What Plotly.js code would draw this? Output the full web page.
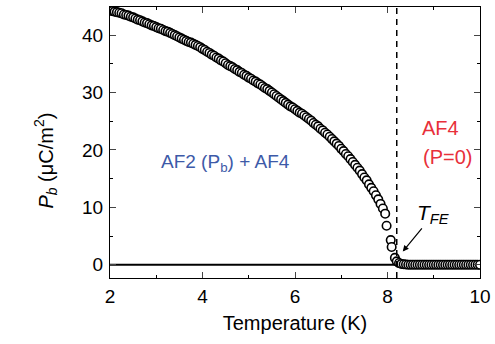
<!DOCTYPE html>
<html><head><meta charset="utf-8">
<script src="https://cdn.plot.ly/plotly-3.0.1.min.js"></script>
<style>html,body{margin:0;padding:0;background:#fff}#chart{width:495px;height:344px}</style>
</head><body><div id="chart"></div>
<script>
// Temperature (K) and polarization P_b (uC/m^2)
const temperature = [
 2.00,2.05,2.10,2.15,2.20,2.25,2.30,2.35,2.40,2.45,2.50,2.55,2.60,2.65,2.70,2.75,2.80,2.85,2.90,2.95,
 3.00,3.05,3.10,3.15,3.20,3.25,3.30,3.35,3.40,3.45,3.50,3.55,3.60,3.65,3.70,3.75,3.80,3.85,3.90,3.95,
 4.00,4.05,4.10,4.15,4.20,4.25,4.30,4.35,4.40,4.45,4.50,4.55,4.60,4.65,4.70,4.75,4.80,4.85,4.90,4.95,
 5.00,5.05,5.10,5.15,5.20,5.25,5.30,5.35,5.40,5.45,5.50,5.55,5.60,5.65,5.70,5.75,5.80,5.85,5.90,5.95,
 6.00,6.05,6.10,6.15,6.20,6.25,6.30,6.35,6.40,6.45,6.50,6.55,6.60,6.65,6.70,6.75,6.80,6.85,6.90,6.95,
 7.00,7.05,7.10,7.15,7.20,7.25,7.30,7.35,7.40,7.45,7.50,7.55,7.60,7.65,7.70,7.75,7.80,7.85,7.90,7.95,
 7.98,8.07,8.09,8.16,8.20,8.25,8.30,
 8.35,8.40,8.45,8.50,8.55,8.60,8.65,8.70,8.75,8.80,8.85,8.90,8.95,9.00,9.05,9.10,9.15,9.20,9.25,9.30,
 9.35,9.40,9.45,9.50,9.55,9.60,9.65,9.70,9.75,9.80,9.85,9.90,9.95,10.00
];
const polarization = [
 44.3,44.2,44.1,44.0,43.9,43.8,43.6,43.5,43.4,43.2,43.1,42.9,42.7,42.6,42.4,42.2,42.1,41.9,41.7,41.6,
 41.4,41.2,41.1,40.9,40.7,40.6,40.4,40.2,40.0,39.8,39.6,39.4,39.2,39.0,38.8,38.7,38.5,38.3,38.1,37.9,
 37.6,37.4,37.1,36.9,36.6,36.4,36.1,35.9,35.6,35.4,35.1,34.8,34.6,34.4,34.1,33.9,33.6,33.4,33.1,32.9,
 32.6,32.4,32.1,31.9,31.6,31.4,31.1,30.8,30.6,30.3,30.0,29.7,29.4,29.1,28.8,28.5,28.2,27.9,27.6,27.4,
 27.1,26.8,26.5,26.3,26.0,25.7,25.4,25.1,24.7,24.4,24.1,23.7,23.4,23.0,22.7,22.3,21.9,21.5,21.1,20.7,
 20.2,19.8,19.3,18.9,18.4,17.9,17.4,16.9,16.4,15.8,15.2,14.7,14.0,13.4,12.8,12.1,11.4,10.6,9.8,8.9,
 6.8,4.3,3.1,1.2,0.6,0.3,0.15,
 0.1,0.05,0,0,0,0,0,0,0,0,0,0,0,0,0,0,0,0,0,0,
 0,0,0,0,0,0,0,0,0,0,0,0,0,0
];
const tFE = 8.2;              // transition temperature (dashed line)
const zeroLineX = [2, tFE];   // solid baseline
const zeroLineY = [0, 0];
const xTicks = [2, 4, 6, 8, 10];
const yTicks = [0, 10, 20, 30, 40];

const traces = [
  {x: zeroLineX, y: zeroLineY, mode: 'lines', line: {color: '#000', width: 2}, hoverinfo: 'skip'},
  {x: temperature, y: polarization, mode: 'markers',
   marker: {symbol: 'circle', size: 8.5, color: '#fff', line: {color: '#000', width: 1.6}}}
];

const layout = {
  width: 495, height: 344,
  margin: {l: 110, r: 15, t: 7, b: 66},
  paper_bgcolor: '#fff', plot_bgcolor: '#fff',
  showlegend: false,
  font: {family: 'Liberation Sans, Arial, sans-serif', size: 19, color: '#000'},
  xaxis: {
    range: [2, 10], tickvals: xTicks, ticks: 'inside', ticklen: 6, tickwidth: 1,
    showline: true, linecolor: '#000', linewidth: 1, mirror: 'ticks', showgrid: false, zeroline: false,
    minor: {dtick: 1, tick0: 0, ticks: 'inside', ticklen: 3, tickcolor: '#000', showgrid: false},
    tickfont: {size: 19}, ticklabelstandoff: 1,
    title: {text: 'Temperature (K)', font: {size: 20}, standoff: 10}
  },
  yaxis: {
    range: [-2.3, 44.9], tickvals: yTicks, ticks: 'inside', ticklen: 6, tickwidth: 1,
    showline: true, linecolor: '#000', linewidth: 1, mirror: 'ticks', showgrid: false, zeroline: false,
    minor: {dtick: 5, tick0: 0, ticks: 'inside', ticklen: 3, tickcolor: '#000', showgrid: false},
    tickfont: {size: 19}, ticklabelstandoff: 2
  },
  shapes: [
    {type: 'line', xref: 'x', yref: 'paper', x0: tFE, x1: tFE, y0: 0, y1: 1,
     line: {color: '#000', width: 1.5, dash: '6px,5px'}}
  ],
  annotations: [
    {x: -0.219, y: 0.435, xref: 'paper', yref: 'paper', showarrow: false, textangle: -90,
     text: '<i>P</i><sub><i>b</i></sub> (μC/m<sup>2</sup>)', font: {size: 20, color: '#000'}},
    {x: 4.5, y: 17.7, xref: 'x', yref: 'y', showarrow: false,
     text: 'AF2 (P<sub>b</sub>) + AF4', font: {size: 19, color: '#3d5aa8'}},
    {x: 9.14, y: 23.8, xref: 'x', yref: 'y', showarrow: false,
     text: 'AF4', font: {size: 20, color: '#e8303a'}},
    {x: 9.3, y: 18.8, xref: 'x', yref: 'y', showarrow: false,
     text: '(P=0)', font: {size: 20, color: '#e8303a'}},
    {x: 8.33, y: 2.3, ax: 8.77, ay: 6.6, xref: 'x', yref: 'y', axref: 'x', ayref: 'y',
     showarrow: true, arrowhead: 2, arrowsize: 1, arrowwidth: 1.2, arrowcolor: '#000', text: ''},
    {x: 8.98, y: 8.8, xref: 'x', yref: 'y', showarrow: false,
     text: '<i>T</i><sub><i>FE</i></sub>', font: {size: 21, color: '#000'}}
  ]
};

Plotly.newPlot('chart', traces, layout, {displayModeBar: false, staticPlot: true});
</script>
</body></html>
